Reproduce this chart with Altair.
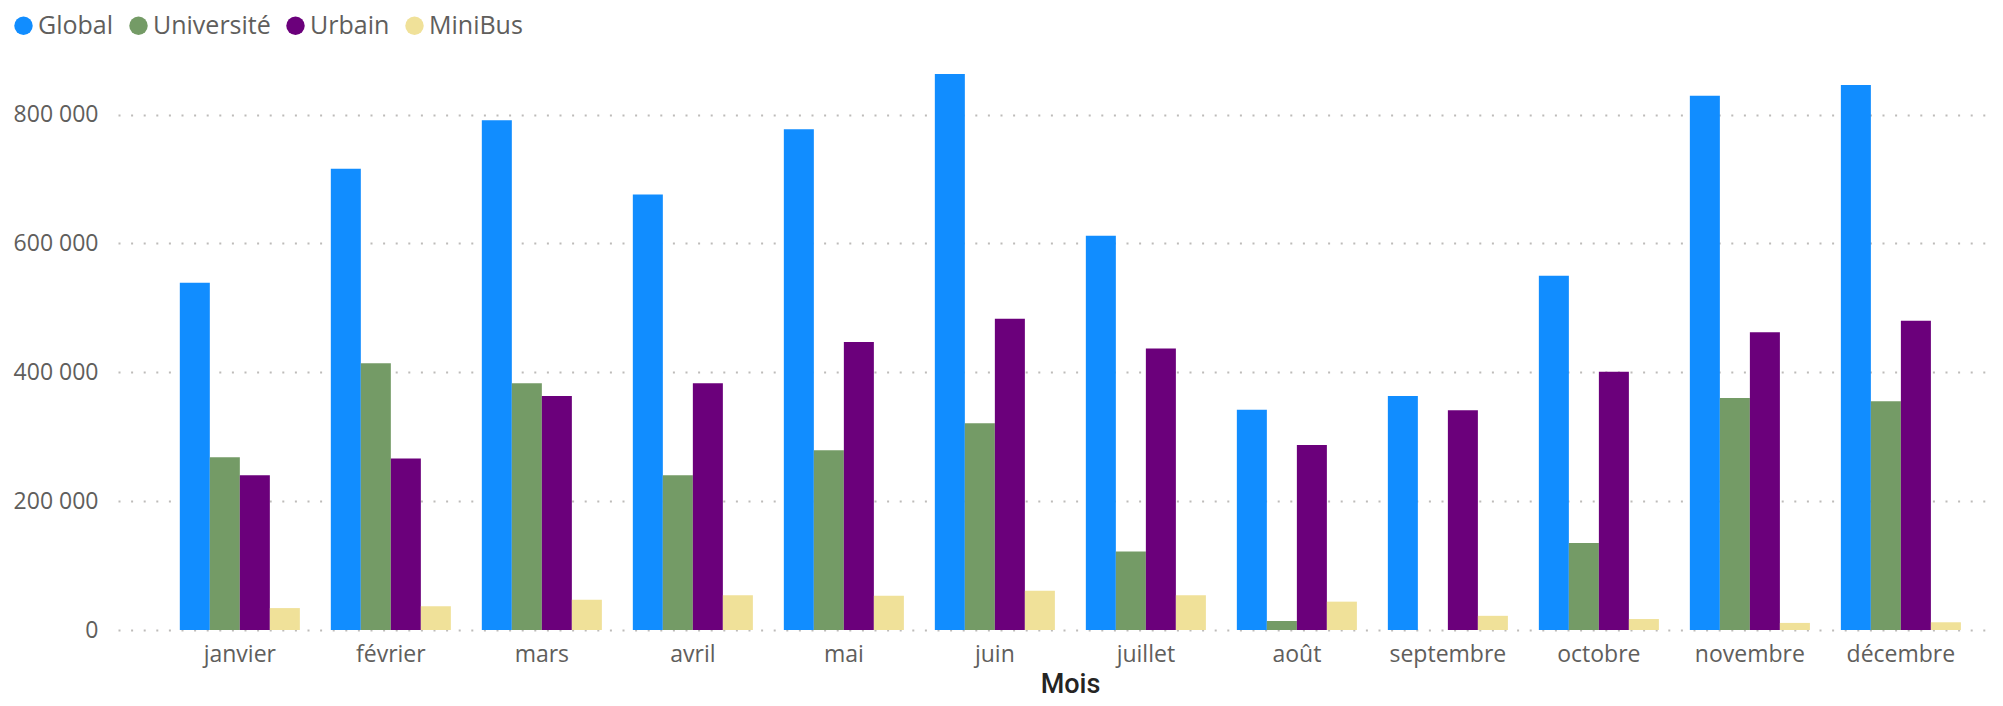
import altair as alt
import pandas as pd

months = ["janvier", "février", "mars", "avril", "mai", "juin", "juillet",
          "août", "septembre", "octobre", "novembre", "décembre"]
series = ["Global", "Université", "Urbain", "MiniBus"]
global_vals = [539000, 716000, 791000, 676000, 777000, 863000, 612000, 342000, 363000, 550000, 829000, 846000]
universite_vals = [268000, 414000, 383000, 240000, 279000, 321000, 122000, 14000, None, 135000, 360000, 355000]
urbain_vals = [240000, 266000, 363000, 383000, 447000, 483000, 437000, 287000, 341000, 401000, 462000, 480000]
minibus_vals = [34000, 37000, 47000, 54000, 53000, 61000, 54000, 44000, 22000, 17000, 11000, 12000]
colors = ["#118DFF", "#749B66", "#6B007B", "#F0E199"]
y_ticks = [0, 200000, 400000, 600000, 800000]

rows = []
for name, vals in zip(series, [global_vals, universite_vals, urbain_vals, minibus_vals]):
    for m, v in zip(months, vals):
        if v is not None:
            rows.append({"Mois": m, "Série": name, "Valeur": v})
df = pd.DataFrame(rows)

label_color = "#605E5C"

chart = alt.Chart(df).mark_bar().encode(
    x=alt.X(
        "Mois:N", sort=months,
        scale=alt.Scale(paddingInner=0.205, paddingOuter=0.301, align=0.68),
        axis=alt.Axis(
            title="Mois", labelAngle=0, ticks=False, domain=False, grid=False,
            labelPadding=13, labelFontSize=23, labelColor=label_color,
            labelFont="Open Sans", labelOverlap=False,
            titleFont="Roboto", titleFontSize=27, titleColor="#252423",
            titleFontWeight=500, titleX=952, titleY=62, titleBaseline="alphabetic",
        ),
    ),
    xOffset=alt.XOffset("Série:N", sort=series, scale=alt.Scale(paddingInner=0, paddingOuter=0)),
    y=alt.Y(
        "Valeur:Q",
        scale=alt.Scale(domain=[0, 880000], nice=False),
        axis=alt.Axis(
            title=None, values=y_ticks,
            labelExpr="replace(format(datum.value, ','), ',', ' ')",
            ticks=False, domain=False, labelPadding=20,
            gridDash=[2, 10.6], gridColor="#BDBBB9", gridWidth=2,
            labelFontSize=23, labelColor=label_color, labelFont="Open Sans",
        ),
    ),
    color=alt.Color(
        "Série:N", sort=series,
        scale=alt.Scale(domain=series, range=colors),
        legend=alt.Legend(
            title=None, orient="none", legendX=-107, legendY=-50,
            direction="horizontal", symbolType="circle", symbolSize=340,
            symbolStrokeWidth=0, labelFontSize=25, labelFont="Open Sans",
            labelColor=label_color, labelOffset=2, columnPadding=12,
        ),
    ),
).properties(
    width=1872, height=567,
    autosize=alt.AutoSizeParams(type="none"),
    padding={"left": 110, "top": 55, "right": 0, "bottom": 68},
).configure_view(stroke=None)

chart.save("out.html", embed_options={"renderer": "svg", "actions": False})
